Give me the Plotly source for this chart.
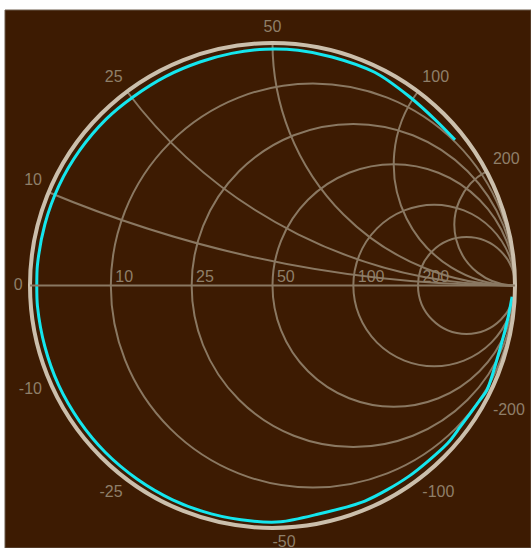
import numpy as np
import plotly.graph_objects as go

Z0 = 50  # reference impedance, ohms

# Grid values (ohms)
resistance_ticks = [10, 25, 50, 100, 200]
reactance_ticks = [10, 25, 50, 100, 200]

# Tick label texts
real_labels = ["10", "25", "50", "100", "200"]
imag_labels_pos = ["10", "25", "50", "100", "200"]
imag_labels_neg = ["-10", "-25", "-50", "-100", "-200"]

gamma_angle_deg = [38.6, 45, 54.3, 64.4, 75.4, 83.8, 91.8, 100, 108, 117, 126.5,
                   135, 145, 155, 165, 175, 180, 185, 195, 205, 215, 225, 235,
                   245, 255, 265, 272, 280.5, 293.2, 305.3, 318, 323, 331, 334,
                   345, 352, 357.3]
gamma_mag = [0.963, 0.958, 0.962, 0.975, 0.974, 0.976, 0.975, 0.972, 0.969, 0.968,
             0.967, 0.970, 0.971, 0.972, 0.972, 0.973, 0.972, 0.973, 0.972, 0.973,
             0.973, 0.974, 0.974, 0.975, 0.975, 0.975, 0.975, 0.962, 0.967, 0.967,
             0.972, 0.969, 0.977, 0.984, 0.974, 0.98, 0.989]

BG = "#3d1b02"
GRID = "#8a7862"
LABEL = "#8f7f69"
OUTER = "#cbbfac"
CYAN = "#14e6ee"
LABEL_PAD = 1.03  # imaginary labels sit just outside the outer circle

g = np.array(gamma_mag) * np.exp(1j * np.deg2rad(gamma_angle_deg))
z = (1 + g) / (1 - g)

fig = go.Figure()

fig.add_trace(go.Scattersmith(
    real=z.real, imag=z.imag, mode="lines",
    line=dict(color=CYAN, width=3, shape="spline", smoothing=0.8),
    hoverinfo="skip", showlegend=False,
))

# Real-axis labels
fig.add_trace(go.Scattersmith(
    real=[v / Z0 for v in resistance_ticks], imag=[0] * len(resistance_ticks),
    mode="text", text=["\u00a0" + t for t in real_labels], textposition="top right",
    textfont=dict(color=LABEL, size=16, family="Liberation Sans"),
    cliponaxis=False, hoverinfo="skip", showlegend=False,
))

# Imaginary-axis labels, anchored just outside the boundary at each reactance
imag_vals = [v / Z0 for v in reactance_ticks] + [-v / Z0 for v in reactance_ticks] + [0]
gb = (1j * np.array(imag_vals) - 1) / (1j * np.array(imag_vals) + 1) * LABEL_PAD
zl = (1 + gb) / (1 - gb)
pos_positions = ["top left", "top left", "top center", "top right", "top right"]
neg_positions = ["bottom left", "bottom left", "bottom right", "bottom right", "bottom right"]
fig.add_trace(go.Scattersmith(
    real=zl.real, imag=zl.imag,
    mode="text", text=imag_labels_pos + imag_labels_neg + ["0"],
    textposition=pos_positions + neg_positions + ["middle left"],
    textfont=dict(color=LABEL, size=16, family="Liberation Sans"),
    cliponaxis=False, hoverinfo="skip", showlegend=False,
))

fig.update_layout(
    width=531, height=548,
    margin=dict(l=0, r=0, t=0, b=0),
    paper_bgcolor="white",
    showlegend=False,
    smith=dict(
        domain=dict(x=[30 / 531, 515 / 531], y=[20 / 548, 505 / 548]),
        bgcolor=BG,
        realaxis=dict(
            tickvals=[v / Z0 for v in resistance_ticks],
            showticklabels=False, ticks="",
            gridcolor=GRID, gridwidth=2,
            showline=True, linecolor=GRID, linewidth=2,
        ),
        imaginaryaxis=dict(
            tickvals=[v / Z0 for v in reactance_ticks],
            showticklabels=False, ticks="",
            gridcolor=GRID, gridwidth=2,
            showline=True, linecolor=OUTER, linewidth=4,
        ),
    ),
    shapes=[dict(type="rect", xref="paper", yref="paper",
                 x0=5 / 531, x1=1, y0=0, y1=538 / 548,
                 fillcolor=BG, line=dict(color="#6b5a4a", width=1), layer="below")],
)

fig.write_html("out.html", config={"displayModeBar": False},
               post_script="document.body.style.margin='0';document.body.style.overflow='hidden';")
